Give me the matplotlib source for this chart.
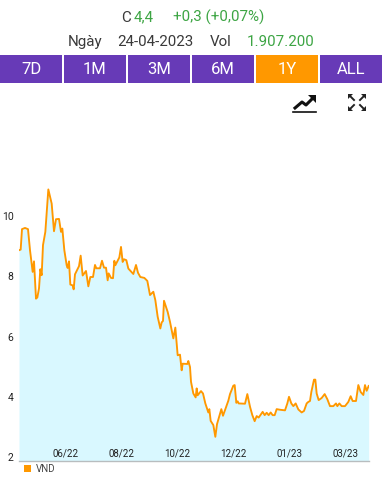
import matplotlib
matplotlib.use("Agg")
import matplotlib.pyplot as plt
from matplotlib.patches import Rectangle, Polygon

plt.rcParams['font.family'] = ['Roboto', 'DejaVu Sans']

# session number since start of the 1Y window
sessions = [0, 1.25, 2.25, 4.5, 6.75, 8.25, 10.25, 11.25, 12.75, 13.75, 15, 16, 17, 18, 19.75, 22, 24.5, 26.25,
            27.75, 30, 31.5, 32.5, 34, 35.75, 36.5, 37.5, 38.5, 40.25, 41, 42, 45, 46.25, 47.75, 50.25, 52, 53.5,
            55.5, 57, 58, 60.75, 62.25, 63.75, 65.25, 66.5, 67.25, 69, 70.5, 71.5, 72.25, 75.25, 76.5, 77.75,
            78.75, 80.5, 82, 85.75, 87.75, 89.25, 91, 94, 96.25, 98.25, 100.75, 102.25, 104, 106, 107, 108,
            108.75, 111.5, 113.25, 115.75, 117.25, 119, 120.75, 122, 122.75, 126.25, 127, 128.25, 129, 130.75,
            132.5, 133.25, 134, 136.5, 138, 139.75, 142, 142.75, 143.75, 145.75, 147.25, 148.5, 151.75, 153,
            157, 158.25, 160.75, 161.75, 163, 164, 164.75, 169.5, 171.25, 173.25, 175, 176.75, 178.25, 179.75,
            182.75, 184.25, 185.75, 187.25, 188.75, 190.25, 191.75, 193.25, 195.75, 199.5, 201.25, 202.5, 204.25,
            205.75, 207.5, 209.5, 212, 213.75, 215.75, 217, 218.25, 219.25, 221.25, 222.25, 223.25, 224.75, 227,
            229.25, 231.25, 233.25, 235.75, 237.75, 238.75, 240.25, 242, 244.5, 247, 248.75, 250.25, 252.75,
            254.5, 256.25, 258.25, 259.5, 260.75, 262.25]
prices = [8.87, 8.89, 9.57, 9.61, 9.57, 8.87, 8.15, 8.50, 7.26, 7.30, 7.60, 8.24, 8.04, 9.04, 9.48, 10.89, 10.42, 9.50,
          9.90, 9.91, 9.48, 9.59, 8.87, 8.37, 8.28, 8.50, 7.73, 7.70, 7.57, 8.07, 8.34, 8.69, 8.03, 8.18, 7.67, 7.98,
          7.98, 8.38, 8.27, 8.27, 8.52, 8.29, 8.29, 7.87, 8.10, 7.95, 7.94, 8.52, 8.37, 8.63, 8.98, 8.48,
          8.57, 8.54, 8.26, 8.08, 8.38, 8.12, 7.98, 7.95, 7.85, 7.38, 7.49, 7.21, 6.66, 6.27, 6.47, 6.52,
          7.19, 6.82, 6.49, 5.94, 6.30, 5.38, 5.40, 4.88, 5.10, 5.09, 5.19, 4.99, 4.50, 4.11,
          3.98, 4.28, 4.05, 4.19, 4.11, 3.78, 3.48, 3.59, 3.20, 3.06, 2.67, 3.09, 3.59, 3.37,
          3.87, 4.09, 4.37, 4.39, 3.80, 3.85, 3.78, 3.77, 4.09, 3.67, 3.39, 3.19, 3.36, 3.31,
          3.50, 3.39, 3.47, 3.39, 3.48, 3.39, 3.39, 3.59, 3.57, 3.55, 3.78, 4.00, 3.78,
          3.69, 3.78, 3.58, 3.48, 3.53, 3.78, 3.83, 3.86, 4.16, 4.57, 4.57, 4.11, 3.89, 3.96,
          4.09, 3.92, 3.69, 3.69, 3.78, 3.69, 3.78, 3.69, 3.69, 3.83, 4.02, 3.86, 3.86,
          4.39, 4.16, 4.06, 4.39, 4.20, 4.36]

tick_sessions = [35, 77, 119, 161, 203, 245]
tick_labels = ['06/22', '08/22', '10/22', '12/22', '01/23', '03/23']
y_ticks = [2, 4, 6, 8, 10]

buttons = ['7D', '1M', '3M', '6M', '1Y', 'ALL']
active_button = '1Y'

W, H = 383, 500
fig = plt.figure(figsize=(W / 100, H / 100), dpi=100)

# overlay in pixel coords for the header, buttons and icons
ui = fig.add_axes([0, 0, 1, 1])
ui.set_xlim(0, W)
ui.set_ylim(H, 0)
ui.axis('off')

ax = fig.add_axes([19 / W, 1 - 461 / H, 350 / W, 291 / H])
ax.set_xlim(0, 262.5)
ax.set_ylim(2 - 4 / 30.1, 2 + (457 - 170) / 30.1)
ax.patch.set_alpha(0)
ax.fill_between(sessions, prices, ax.get_ylim()[0], color='#D9F8FF', lw=0)
ax.plot(sessions, prices, color='#FF9800', lw=1.35, solid_joinstyle='round')

for s in ['top', 'left', 'right']:
    ax.spines[s].set_visible(False)
ax.spines['bottom'].set_color('#B8BDBF')
ax.spines['bottom'].set_linewidth(1)
ax.set_yticks(y_ticks)
ax.set_yticklabels([str(v) for v in y_ticks], fontsize=7.5, color='#222222')
ax.tick_params(axis='y', length=0, pad=4)
ax.set_xticks(tick_sessions)
ax.set_xticklabels(tick_labels, fontsize=7, color='#222222')
ax.tick_params(axis='x', length=0, direction='in', pad=-9)

# header
grey = '#3A3A3A'
green = '#3DA544'
fs = 10.9
ui.text(121, 17.5, 'C', color=grey, fontsize=fs, va='center')
ui.text(134, 17.5, '4,4', color=green, fontsize=fs, va='center')
ui.text(173, 17.5, '+0,3 (+0,07%)', color=green, fontsize=fs, va='center')
ui.text(68, 42, 'Ngày', color=grey, fontsize=fs, va='center')
ui.text(117.5, 42, '24-04-2023', color=grey, fontsize=fs, va='center')
ui.text(209.5, 42, 'Vol', color=grey, fontsize=fs, va='center')
ui.text(246.5, 42, '1.907.200', color=green, fontsize=fs, va='center')

# range buttons
for i, name in enumerate(buttons):
    color = '#FF9800' if name == active_button else '#673AB7'
    ui.add_patch(Rectangle((i * 64, 55), 62, 28, color=color, lw=0))
    ui.text(i * 64 + 31, 70, name, color='white', fontsize=12, ha='center', va='center')

# trend icon
ui.plot([293, 316], [112, 112], color='#111111', lw=1.2)
ui.plot([295, 302, 306, 313], [108, 102, 105, 98], color='#111111', lw=2.2)
ui.add_patch(Polygon([(308, 95), (316, 95), (316, 103)], color='#111111', lw=0))

# fullscreen icon
for cx, cy, dx, dy in [(348, 94, 1, 1), (366, 94, -1, 1), (348, 111, 1, -1), (366, 111, -1, -1)]:
    ui.add_patch(Polygon([(cx, cy), (cx + 5 * dx, cy), (cx, cy + 5 * dy)], color='#222222', lw=0))
    ui.plot([cx + 2 * dx, cx + 6 * dx], [cy + 2 * dy, cy + 6 * dy], color='#222222', lw=1.4)

# legend
ui.add_patch(Rectangle((24, 465), 7, 7, color='#FF9800', lw=0))
ui.text(36, 468.7, 'VND', color='#444444', fontsize=7, va='center')

fig.savefig('out.png', dpi=100)
